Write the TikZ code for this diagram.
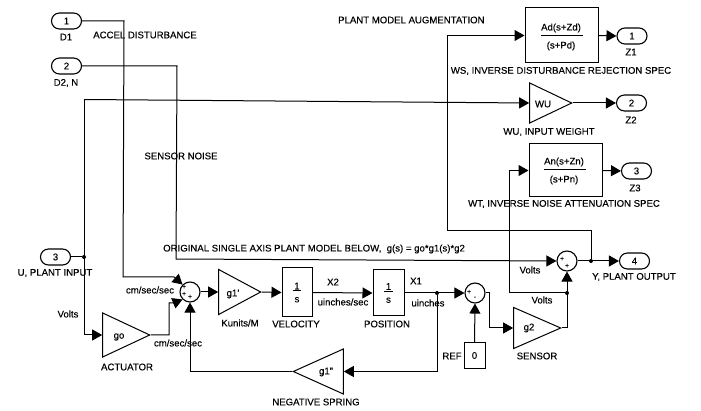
\documentclass[tikz,border=0pt]{standalone}
\usepackage{fontspec}
\setmainfont[FakeBold=0.15]{Liberation Sans}
\usetikzlibrary{arrows.meta,shapes.geometric,shapes.misc}
\tikzset{
  wire/.style={line width=1pt,draw=black},
  feed/.style={wire,-{Triangle[length=10pt,width=11pt]}},
  port/.style={draw,line width=1.1pt,rounded rectangle,minimum width=30pt,minimum height=16pt,inner sep=0pt,font=\fontsize{9.6}{10}\selectfont},
  block/.style={draw,line width=1pt,inner sep=0pt,font=\fontsize{9.6}{10}\selectfont,align=center},
  gain/.style={draw,line width=1pt,isosceles triangle,isosceles triangle stretches,inner sep=0pt,anchor=apex},
  sumnode/.style={draw,line width=1.1pt,circle,minimum size=20pt,inner sep=0pt},
  dotnode/.style={circle,fill=black,minimum size=4pt,inner sep=0pt},
  lab/.style={font=\fontsize{9.6}{10}\selectfont,inner sep=0pt},
  sign/.style={font=\fontsize{7}{7}\selectfont,inner sep=0pt}
}
\begin{document}
\begin{tikzpicture}[x=1pt,y=1pt]
  \useasboundingbox (0,0) rectangle (701,-411);

  % inputs
  \node[port] (in1) at (66.5,-21) {1};
  \node[port] (in2) at (66.5,-66) {2};
  \node[port] (in3) at (55.5,-257) {3};
  \node[lab] (d1) at (66,-37) {D1};
  \node[lab] (d2) at (66,-83) {D2, N};
  \node[lab] (uin) at (55,-273) {U, PLANT INPUT};

  % plant
  \node[gain,minimum height=47pt,minimum width=44pt] (go) at (151,-335) {};
  \node[lab] (gotxt) at (119,-337) {go};
  \node[sumnode] (sum1) at (190,-292) {};
  \node[sign] (s1a) at (184,-287) {+};
  \node[sign] (s1b) at (184,-294) {+};
  \node[sign] (s1c) at (190,-297) {+};
  \node[gain,minimum height=42pt,minimum width=45pt] (g1p) at (262,-292) {};
  \node[lab] (g1ptxt) at (233,-294) {g1'};
  \node[block,minimum width=30pt,minimum height=49pt] (vel) at (297,-292.5) {\underline{\,1\,}\\[3pt]s};
  \node[block,minimum width=31pt,minimum height=46pt] (pos) at (388.5,-293) {\underline{\,1\,}\\[3pt]s};
  \node[sumnode] (sum3) at (475,-293) {};
  \node[sign] (s3a) at (469,-292) {+};
  \node[sign] (s3b) at (475,-298) {-};
  \node[block,minimum width=21pt,minimum height=25pt] (ref) at (474.5,-355.5) {0};
  \node[gain,minimum height=47pt,minimum width=41pt] (g2) at (562,-328) {};
  \node[lab] (g2txt) at (529,-328) {g2};
  \node[sumnode] (sum2) at (567,-261) {};
  \node[sign] (s2a) at (562,-259) {+};
  \node[sign] (s2b) at (567,-266) {+};
  \node[gain,shape border rotate=180,minimum height=50pt,minimum width=45pt] (g1n) at (292,-371.5) {};
  \node[lab] (g1ntxt) at (326,-372) {g1"};

  % weights
  \node[block,minimum width=73pt,minimum height=55pt] (ws) at (561.5,-35.5) {};
  \node[gain,minimum height=42pt,minimum width=40pt] (wu) at (573,-103) {};
  \node[lab] (wutxt) at (543,-104) {WU};
  \node[block,minimum width=73pt,minimum height=53pt] (wt) at (565.5,-170.5) {};
  \node[lab] (wsnum) at (561,-28) {Ad(s+Zd)};
  \node[lab] (wsden) at (561,-46) {(s+Pd)};
  \node[lab] (wtnum) at (564,-162) {An(s+Zn)};
  \node[lab] (wtden) at (564,-180) {(s+Pn)};
  \draw[wire] (wsnum.south west) ++(0,-2.5) -- ++(42,0);
  \draw[wire] (wtnum.south west) ++(0,-2.5) -- ++(42,0);

  % outputs
  \node[port] (out1) at (632,-36) {1};
  \node[port] (out2) at (631.5,-103) {2};
  \node[port] (out3) at (636.5,-171) {3};
  \node[port] (out4) at (634.5,-261) {4};
  \node[lab] (z1) at (631,-52) {Z1};
  \node[lab] (z2) at (631,-120) {Z2};
  \node[lab] (z3) at (635,-188) {Z3};
  \node[lab] (yout) at (634,-277) {Y, PLANT OUTPUT};

  % junctions
  \node[dotnode] (j3) at (84,-257) {};
  \node[dotnode] (jx1) at (437,-293) {};
  \node[dotnode] (jy) at (591,-261) {};
  \node[dotnode] (jv) at (567,-293) {};
  \coordinate (jtop) at (84,-99.5);

  % wires
  \draw[feed] (in1.east) -- (124,-21) -- (123,-277) -- (174,-277) -- (sum1.north west);
  \draw[feed] (in2.east) -- (177,-66) -- (176,-259) -- (sum2.west);
  \draw[wire] (in3.east) -- (j3);
  \draw[feed] (jtop) |- (go.lower side);
  \draw[feed] (jtop) -- (wu.lower side);
  \draw[feed] (go.apex) -- (169,-335) -- (169,-303) -- (174,-303) -- (sum1.south west);
  \draw[feed] (g1n.apex) -| (sum1.south);
  \draw[feed] (sum1.east) -- (g1p.lower side);
  \draw[feed] (g1p.apex) -- (vel.west);
  \draw[feed] (vel.east) -- (pos.west);
  \draw[feed] (pos.east) -- (sum3.west);
  \draw[feed] (jx1) |- (g1n.lower side);
  \draw[feed] (ref.north) -- (sum3.south);
  \draw[feed] (sum3.east) -- (489,-293) |- (g2.lower side);
  \draw[feed] (g2.apex) -| (sum2.south);
  \draw[feed] (sum2.east) -- (out4.west);
  \draw[feed] (jy) -- (591,-231) -- (447,-231) |- (ws.west);
  \draw[feed] (jv) -- (509,-293) |- (wt.west);
  \draw[feed] (ws.east) -- (out1.west);
  \draw[feed] (wu.apex) -- (out2.west);
  \draw[feed] (wt.east) -- (out3.west);

  % texts
  \node[lab] (accel) at (145,-35) {ACCEL DISTURBANCE};
  \node[lab] (noise) at (181,-156) {SENSOR NOISE};
  \node[lab,anchor=west] (aug) at (338,-20) {PLANT MODEL AUGMENTATION};
  \node[lab,anchor=west] (orig) at (163,-249) {ORIGINAL SINGLE AXIS PLANT MODEL BELOW,\ \ g(s) = go*g1(s)*g2};
  \node[lab] (wsname) at (561,-71) {WS, INVERSE DISTURBANCE REJECTION SPEC};
  \node[lab] (wuname) at (549,-132) {WU, INPUT WEIGHT};
  \node[lab] (wtname) at (564,-204) {WT, INVERSE NOISE ATTENUATION SPEC};
  \node[lab] (volts1) at (68,-314) {Volts};
  \node[lab] (cm1) at (150,-290) {cm/sec/sec};
  \node[lab] (cm2) at (178,-343) {cm/sec/sec};
  \node[lab] (act) at (127,-367) {ACTUATOR};
  \node[lab] (kun) at (240,-323) {Kunits/M};
  \node[lab] (velname) at (296,-324) {VELOCITY};
  \node[lab] (x2) at (333,-282) {X2};
  \node[lab] (uin2) at (343,-302) {uinches/sec};
  \node[lab] (x1) at (416,-281) {X1};
  \node[lab] (uin1) at (428,-303) {uinches};
  \node[lab] (posname) at (387,-324) {POSITION};
  \node[lab] (volts2) at (530,-270) {Volts};
  \node[lab] (volts3) at (542,-300) {Volts};
  \node[lab] (sens) at (537,-356) {SENSOR};
  \node[lab] (refname) at (452,-356) {REF};
  \node[lab] (spring) at (316,-402) {NEGATIVE SPRING};
\end{tikzpicture}
\end{document}
